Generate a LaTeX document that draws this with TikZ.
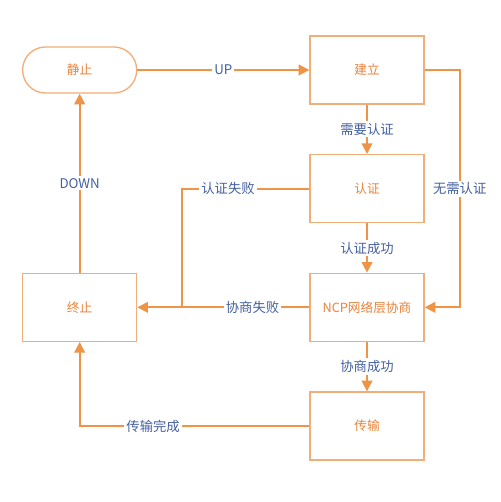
\documentclass[tikz,border=0pt]{standalone}
\usepackage{fontspec}
\setmainfont{Noto Sans CJK SC}
\usepackage{tikz}
\usetikzlibrary{positioning,arrows.meta,calc}

\definecolor{boxline}{HTML}{F2AE78}
\definecolor{flowline}{HTML}{EE9447}
\definecolor{statetext}{HTML}{E9823A}
\definecolor{edgetext}{HTML}{44609F}

\begin{document}
\begin{tikzpicture}[
	node distance=37pt and 129pt,
	every node/.style = {font=\fontsize{9.5}{11}\selectfont},
	state/.style = {
		shape=rectangle, draw=boxline, line width=1pt,
		minimum width=85.5pt, minimum height=51pt,
		text=statetext, align=center},
	idle/.style = {state, rounded corners=17pt, minimum height=34.5pt},
	flow/.style = {draw=flowline, line width=1.4pt,
		-{Triangle[length=8pt,width=8pt]}},
	plain/.style = {draw=flowline, line width=1.4pt},
	cond/.style = {fill=white, text=edgetext, inner sep=1.5pt,
		font=\fontsize{10}{12}\selectfont}]
	\useasboundingbox (-275.25pt,52.5pt) rectangle (99.75pt,-324pt);
	% states
	\node[state] (build) {建立};
	\node[idle, left=of build] (rest) {静止};
	\node[state, below=of build] (auth) {认证};
	\node[state, below=of auth] (ncp) {NCP网络层协商};
	\node[state, left=of ncp] (stop) {终止};
	\node[state, below=of ncp] (xfer) {传输};
	\coordinate (jn) at ($(stop.east)+(33.75pt,0)$);
	% transitions
	\draw[flow] (rest) -- node[cond] {UP} (build);
	\draw[flow] (build) -- node[cond] {需要认证} (auth);
	\draw[flow] (auth) -- node[cond] {认证成功} (ncp);
	\draw[flow] (ncp) -- node[cond] {协商成功} (xfer);
	\draw[flow] (build.east) -- ++(26.25pt,0) |- node[cond, pos=0.25] {无需认证} (ncp.east);
	\draw[flow] (ncp) -- node[cond, pos=0.33] {协商失败} (stop);
	\draw[plain] (auth.west) -| node[cond, pos=0.32] {认证失败} (jn);
	\draw[flow] (xfer.west) -| node[cond, pos=0.34] {传输完成} (stop.south);
	\draw[flow] (stop) -- node[cond] {DOWN} (rest);
\end{tikzpicture}
\end{document}
